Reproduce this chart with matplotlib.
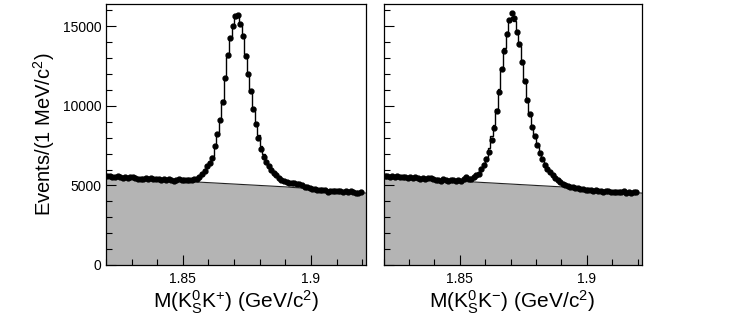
import numpy as np
import matplotlib
matplotlib.use("Agg")
import matplotlib.pyplot as plt
from matplotlib.ticker import MultipleLocator

plt.rcParams['font.family'] = ['Liberation Sans', 'DejaVu Sans']
plt.rcParams['mathtext.fontset'] = 'custom'
plt.rcParams['mathtext.rm'] = 'Liberation Sans'
plt.rcParams['mathtext.it'] = 'Liberation Sans'

# mass window, 1 MeV bins
x_lo = 1.82
x_hi = 1.92
x_axis_hi = 1.9215
n_bins = 100

# events per bin, K0S K+
counts_kp = [
    5620, 5580, 5560, 5520, 5590, 5500, 5460, 5530, 5480, 5510,
    5520, 5470, 5430, 5380, 5420, 5440, 5420, 5450, 5400, 5390,
    5420, 5360, 5380, 5340, 5390, 5330, 5300, 5350, 5420, 5370,
    5330, 5310, 5370, 5370, 5400, 5430, 5535, 5700, 5890, 6200,
    6410, 6725, 7460, 8230, 9130, 10230, 11740, 13200, 14250, 15040,
    15620, 15730, 15140, 14410, 13150, 12000, 10950, 9820, 8850, 8000,
    7300, 6800, 6480, 6200, 5950, 5790, 5640, 5490, 5370, 5280,
    5230, 5180, 5160, 5150, 5100, 5075, 5000, 4930, 4870, 4820,
    4790, 4750, 4730, 4720, 4700, 4690, 4600, 4660, 4650, 4620,
    4660, 4620, 4580, 4620, 4600, 4640, 4580, 4540, 4500, 4560,
]

# events per bin, K0S K-
counts_km = [
    5600, 5620, 5540, 5570, 5530, 5580, 5510, 5500, 5540, 5490,
    5500, 5460, 5510, 5470, 5430, 5450, 5410, 5480, 5440, 5380,
    5320, 5360, 5300, 5380, 5320, 5290, 5350, 5310, 5280, 5330,
    5300, 5380, 5560, 5420, 5430, 5535, 5640, 5745, 6060, 6270,
    6685, 7100, 7830, 8630, 9650, 10900, 12330, 13470, 14520, 15380,
    15830, 15520, 14650, 13870, 12780, 11550, 10340, 9500, 8700, 8100,
    7550, 7050, 6650, 6300, 6030, 5820, 5650, 5480, 5330, 5200,
    5100, 5010, 4950, 4900, 4870, 4820, 4840, 4790, 4760, 4730,
    4740, 4700, 4680, 4720, 4660, 4640, 4600, 4650, 4620, 4580,
    4610, 4560, 4600, 4570, 4620, 4550, 4590, 4530, 4580, 4560,
]

# total fit in the signal region
fit_first_kp = 34
fit_kp = [
    5400, 5440, 5530, 5680, 5900, 6170, 6480, 6880, 7450, 8250,
    9200, 10350, 11700, 13050, 14250, 15100, 15550, 15600, 15200, 14400,
    13250, 12050, 10900, 9850, 8950, 8150, 7450, 6950, 6550, 6220,
    5960, 5760, 5590, 5450, 5350, 5270, 5210, 5160, 5120, 5080,
]
fit_first_km = 33
fit_km = [
    5400, 5440, 5510, 5630, 5820, 6080, 6400, 6800, 7350, 8100,
    8800, 9800, 11050, 12400, 13650, 14650, 15350, 15600, 15350, 14700,
    13750, 12650, 11500, 10400, 9500, 8700, 8050, 7500, 7050, 6650,
    6320, 6050, 5830, 5650, 5490, 5350, 5230, 5140, 5070,
]

# background shape (read at a few masses)
bkg_mass = [1.82, 1.855, 1.89, 1.9215]
bkg_kp = [5480, 5220, 4910, 4520]
bkg_km = [5430, 5222, 4909, 4520]

xlabels = [r'M(K$^{0}_{\mathrm{S}}$K$^{+}$) (GeV/c$^{2}$)',
           r'M(K$^{0}_{\mathrm{S}}$K$^{-}$) (GeV/c$^{2}$)']

fig = plt.figure(figsize=(7.47, 3.32), dpi=100)
ax1 = fig.add_axes([106 / 747, 67 / 332, 260 / 747, 261 / 332])
ax2 = fig.add_axes([383.5 / 747, 67 / 332, 258 / 747, 261 / 332])

edges = np.linspace(x_lo, x_hi, n_bins + 1)
centers = 0.5 * (edges[:-1] + edges[1:])


def draw_panel(ax, counts, fit, fit_first, bkg, xlabel, show_y):
    counts = np.array(counts, dtype=float)
    # background
    ax.fill_between(bkg_mass, 0, bkg, color='#b4b4b4', lw=0, zorder=1)
    ax.plot(bkg_mass, bkg, color='#222222', lw=0.8, zorder=2)
    # total fit as steps
    f_edges = edges[fit_first:fit_first + len(fit) + 1]
    ax.stairs(fit, f_edges, baseline=None, color='black', lw=1.0, zorder=3)
    # data
    ax.errorbar(centers, counts, yerr=np.sqrt(counts), fmt='o', color='black',
                ms=3.5, elinewidth=0.8, capsize=0, zorder=4)

    ax.set_xlim(x_lo, x_axis_hi)
    ax.set_ylim(0, 16400)
    ax.xaxis.set_major_locator(MultipleLocator(0.05))
    ax.xaxis.set_minor_locator(MultipleLocator(0.01))
    ax.yaxis.set_major_locator(MultipleLocator(5000))
    ax.yaxis.set_minor_locator(MultipleLocator(1000))
    ax.xaxis.set_major_formatter(plt.FuncFormatter(lambda v, p: f'{v:g}'))
    ax.tick_params(which='both', direction='in', top=False, right=False,
                   labelsize=10, width=0.8)
    ax.tick_params(which='major', length=7)
    ax.tick_params(which='minor', length=4)
    ax.tick_params(axis='x', pad=5)
    if not show_y:
        ax.set_yticklabels([])
    for s in ax.spines.values():
        s.set_linewidth(0.9)
    ax.set_xlabel(xlabel, fontsize=15, labelpad=2)


draw_panel(ax1, counts_kp, fit_kp, fit_first_kp, bkg_kp, xlabels[0], True)
draw_panel(ax2, counts_km, fit_km, fit_first_km, bkg_km, xlabels[1], False)
ax1.set_ylabel(r'Events/(1 MeV/c$^{2}$)', fontsize=14.5, labelpad=4)

plt.savefig('out.png', dpi=100)
